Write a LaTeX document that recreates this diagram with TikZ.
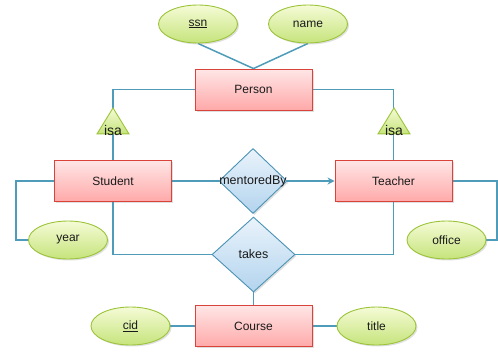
\documentclass[tikz,border=0pt]{standalone}
\usepackage{fontspec}
\setmainfont{Liberation Sans}
\usetikzlibrary{shapes.geometric,arrows.meta,shadows,backgrounds}
\definecolor{lncol}{HTML}{4E9CBA}
\definecolor{entline}{HTML}{D9433A}
\definecolor{enttop}{HTML}{FFE6E6}
\definecolor{entbot}{HTML}{FFA9A9}
\definecolor{attline}{HTML}{9CC43A}
\definecolor{atttop}{HTML}{F5FBD6}
\definecolor{attbot}{HTML}{C6E47C}
\definecolor{relline}{HTML}{4B93B5}
\definecolor{reltop}{HTML}{EAF3FB}
\definecolor{relbot}{HTML}{B3D4EE}
\definecolor{txt}{HTML}{1A1A1A}
\tikzset{
  shade/.style={drop shadow={shadow xshift=1.5pt,shadow yshift=-1.5pt,opacity=0.25}},
  entity/.style={rectangle,draw=entline,line width=0.9pt,top color=enttop,bottom color=entbot,
    minimum width=117pt,minimum height=41pt,inner sep=0pt,shade,
    font=\fontsize{12}{14}\selectfont,text=txt},
  attr/.style={ellipse,draw=attline,line width=0.9pt,top color=atttop,bottom color=attbot,
    minimum width=79pt,minimum height=38pt,inner sep=0pt,shade,
    font=\fontsize{12}{14}\selectfont,text=txt},
  rel/.style={diamond,draw=relline,line width=0.9pt,top color=reltop,bottom color=relbot,
    inner sep=0pt,shade},
  reltext/.style={font=\fontsize{12.5}{14}\selectfont,text=txt,inner sep=0pt},
  isatri/.style={isosceles triangle,isosceles triangle stretches,shape border rotate=90,
    draw=attline,line width=0.9pt,top color=atttop,bottom color=attbot,inner sep=0pt,
    minimum width=32pt,minimum height=26pt},
  isatext/.style={font=\fontsize{14}{16}\selectfont,text=txt,inner sep=0pt},
  conn/.style={draw=lncol,line width=1.5pt},
}
\begin{document}
\begin{tikzpicture}[x=1pt,y=-1pt]
\useasboundingbox (0,0) rectangle (498,351);
% entities
\node[entity] (Person) at (253.5,89.5) {Person};
\node[entity] (Student) at (113,181) {Student};
\node[entity] (Teacher) at (393.5,181) {Teacher};
\node[entity] (Course) at (253.5,326) {Course};
% attributes
\node[attr] (ssn) at (198,24) {\underline{ssn}};
\node[attr] (name) at (308,24) {name};
\node[attr] (year) at (68,240) {year};
\node[attr] (office) at (446.5,240) {office};
\node[attr] (cid) at (130.5,326) {\underline{cid}};
\node[attr] (title) at (376.5,326) {title};
% relationships
\node[rel,minimum width=68pt,minimum height=65pt] (mb) at (253,181) {};
\node[reltext] (mbt) at (253,181) {mentoredBy};
\node[rel,minimum width=83pt,minimum height=75pt] (takes) at (253.5,254.5) {};
\node[reltext] (takest) at (253.5,254.5) {takes};
% isa
\node[isatri] (isaL) at (113,125) {};
\node[isatext] (isaLt) at (113,130.5) {isa};
\node[isatri] (isaR) at (394,125) {};
\node[isatext] (isaRt) at (394,130.5) {isa};
\coordinate (yl) at (16,240);
\coordinate (or) at (497,240);
\begin{scope}[on background layer]
\draw[conn] (ssn.south) -- (Person.north);
\draw[conn] (name.south) -- (Person.north);
\draw[conn] (Person.west) -| (Student.north);
\draw[conn] (Person.east) -| (Teacher.north);
\draw[conn] (Student.west) -| (yl) -- (year.west);
\draw[conn] (Teacher.east) -| (or) -- (office.east);
\draw[conn] (Student.south) |- (takes.west);
\draw[conn] (Teacher.south) |- (takes.east);
\draw[conn] (takes.south) -- (Course.north);
\draw[conn] (cid.east) -- (Course.west);
\draw[conn] (Course.east) -- (title.west);
\draw[conn] (Student.east) -- (mb.west);
\end{scope}
\draw[conn,-{Stealth[length=7pt,width=7pt]}] (mb.east) -- (Teacher.west);
\end{tikzpicture}
\end{document}
